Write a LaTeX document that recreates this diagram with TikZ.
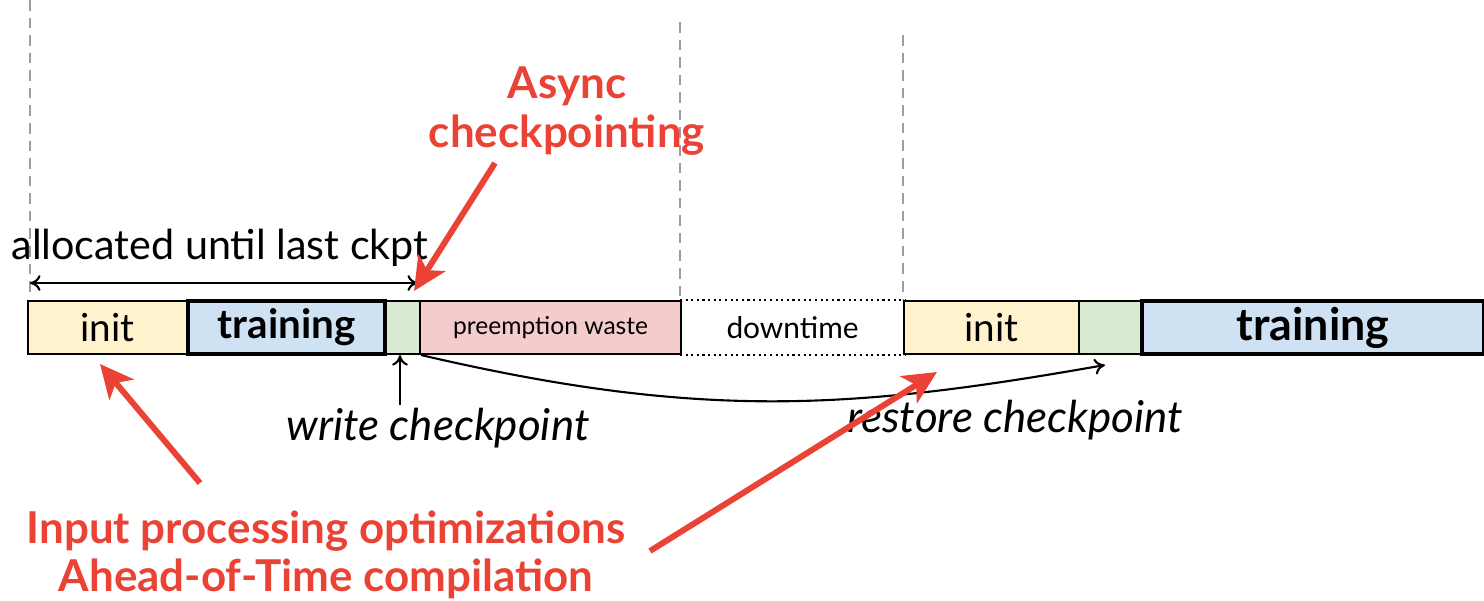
\documentclass[tikz,border=0pt]{standalone}
\usepackage{fontspec}
\setmainfont{Lato}
\usetikzlibrary{arrows.meta}
\definecolor{gred}{HTML}{EA4335}
\definecolor{initfill}{HTML}{FFF2CC}
\definecolor{trainfill}{HTML}{CFE2F3}
\definecolor{ckptfill}{HTML}{D9EAD3}
\definecolor{wastefill}{HTML}{F4CCCC}
\definecolor{guide}{HTML}{9E9E9E}
\tikzset{
  seg/.style={draw=black, line width=1.2pt, minimum height=53*0.02cm, inner sep=0pt, anchor=west},
  thickseg/.style={seg, line width=2.4pt},
  guideline/.style={draw=guide, line width=1.1pt, dash pattern=on 6pt off 4pt},
  callout/.style={draw=gred, line width=3.4pt, -{Stealth[length=19pt,width=18pt,inset=5pt]}},
  note/.style={text=gred, font=\bfseries\fontsize{25}{27.5}\selectfont, align=center},
  lbl/.style={font=\fontsize{23.5}{27}\selectfont},
  ital/.style={font=\itshape\fontsize{25}{29}\selectfont},
  thin arrow/.style={draw=black, line width=1.2pt, -{To[length=6pt,width=9pt]}},
}
\begin{document}
\begin{tikzpicture}[x=0.02cm, y=-0.02cm]
\useasboundingbox (0,0) rectangle (1484,600);

% phase boundaries
\coordinate (g1t) at (30,0);    \coordinate (g1b) at (30,292);
\coordinate (g2t) at (680,22);  \coordinate (g2b) at (680,300);
\coordinate (g3t) at (903,35);  \coordinate (g3b) at (903,300);
\draw[guideline] (g1t) -- (g1b);
\draw[guideline] (g2t) -- (g2b);
\draw[guideline] (g3t) -- (g3b);

% timeline segments
\node[seg, fill=initfill, minimum width=159*0.02cm] (init1) at (27,327.5) {\fontsize{22}{26}\selectfont init};
\node[seg, fill=ckptfill, minimum width=36*0.02cm] (ck1) at (383,327.5) {};
\node[seg, fill=wastefill, minimum width=261*0.02cm] (waste) at (419,327.5) {\fontsize{14}{17}\selectfont preemption waste};
\node[thickseg, fill=trainfill, minimum width=197*0.02cm] (train1) at (186,327.5) {\fontsize{23}{27}\selectfont\bfseries training};
\node[seg, draw=none, minimum width=223*0.02cm] (down) at (680,327.5) {\fontsize{17}{20}\selectfont downtime};
\draw[line width=1.2pt, dotted] (down.north west) -- (down.north east);
\draw[line width=1.2pt, dotted] (down.south west) -- (down.south east);
\node[seg, fill=initfill, minimum width=175*0.02cm] (init2) at (903,327.5) {\fontsize{22}{26}\selectfont init};
\node[seg, fill=ckptfill, minimum width=62*0.02cm] (ck2) at (1078,327.5) {};
\node[thickseg, fill=trainfill, minimum width=342*0.02cm] (train2) at (1140,327.5) {\fontsize{25.5}{29}\selectfont\bfseries training};

% allocated span
\node[lbl] (alloc) at (220,248) {allocated until last ckpt};
\coordinate (spanL) at (30,283);
\coordinate (spanR) at (418,283);
\draw[thin arrow, {To[length=6pt,width=9pt]}-{To[length=6pt,width=9pt]}] (spanL) -- (spanR);

% checkpoint write and restore
\node[ital] (wlabel) at (438,428) {write checkpoint};
\coordinate (wtail) at (400,405);
\draw[thin arrow] (wtail) -- (ck1.south -| wtail);
\node[ital] (rlabel) at (1015,420) {restore checkpoint};
\coordinate (rstart) at (ck1.south east);
\coordinate (rend) at (1105,365);
\draw[thin arrow] (rstart) .. controls (700,420) and (850,410) .. (rend);

% improvement callouts
\node[note] (async) at (567,111) {Async\\checkpointing};
\node[note] (input) at (326,555) {Input processing optimizations\\Ahead-of-Time compilation};
\coordinate (a1s) at (495,163); \coordinate (a1e) at (414,291);
\coordinate (a2s) at (200,483); \coordinate (a2e) at (100,364);
\coordinate (a3s) at (650,551); \coordinate (a3e) at (937,372);
\draw[callout] (a1s) -- (a1e);
\draw[callout] (a2s) -- (a2e);
\draw[callout] (a3s) -- (a3e);
\end{tikzpicture}
\end{document}
